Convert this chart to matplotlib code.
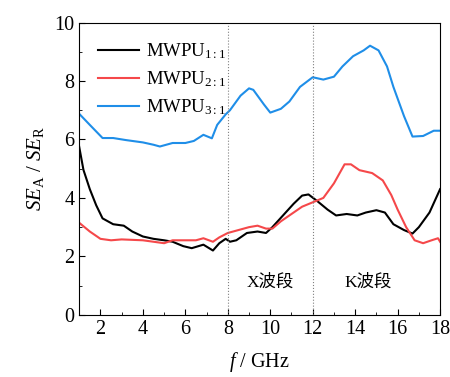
import matplotlib
matplotlib.use("Agg")
import matplotlib.pyplot as plt
from matplotlib.ticker import MultipleLocator

plt.rcParams['font.family'] = ['Liberation Serif', 'Noto Sans CJK SC']
plt.rcParams['mathtext.fontset'] = 'custom'
plt.rcParams['mathtext.rm'] = 'Liberation Serif'
plt.rcParams['mathtext.it'] = 'Liberation Serif:italic'

# frequency (GHz) and SE_A/SE_R
f_blue = [1.0, 1.5, 2.1, 2.6, 3.2, 4.0, 4.5, 4.8, 5.1, 5.4, 6.0, 6.4, 6.85, 7.25, 7.5,
          7.9, 8.1, 8.6, 9.0, 9.2, 9.7, 10.0, 10.5, 10.9, 11.4, 12.0, 12.5, 13.0,
          13.4, 13.9, 14.4, 14.7, 15.1, 15.5, 15.8, 16.3, 16.7, 17.2, 17.7, 18.0]
se_blue = [6.88, 6.5, 6.05, 6.05, 5.98, 5.9, 5.82, 5.76, 5.82, 5.88, 5.88, 5.95, 6.16, 6.04, 6.5,
           6.86, 7.0, 7.5, 7.75, 7.7, 7.2, 6.92, 7.05, 7.3, 7.8, 8.13, 8.05, 8.15,
           8.5, 8.85, 9.05, 9.21, 9.05, 8.5, 7.8, 6.8, 6.1, 6.12, 6.3, 6.3]

f_black = [1.0, 1.2, 1.5, 1.8, 2.1, 2.6, 3.1, 3.5, 4.0, 4.5, 5.0, 5.4, 5.9, 6.3, 6.85,
           7.3, 7.6, 7.9, 8.1, 8.4, 8.9, 9.4, 9.8, 10.1, 10.6, 11.1, 11.5, 11.8,
           12.2, 12.7, 13.1, 13.6, 14.1, 14.5, 15.0, 15.4, 15.8, 16.3, 16.7, 17.0,
           17.5, 18.0]
se_black = [5.75, 4.96, 4.3, 3.75, 3.3, 3.1, 3.05, 2.85, 2.68, 2.6, 2.55, 2.5, 2.35, 2.28, 2.4,
            2.2, 2.45, 2.6, 2.5, 2.55, 2.8, 2.85, 2.8, 3.0, 3.4, 3.8, 4.08, 4.12,
            3.9, 3.6, 3.4, 3.45, 3.4, 3.5, 3.58, 3.5, 3.1, 2.9, 2.78, 3.0,
            3.5, 4.3]

f_red = [1.0, 1.5, 2.0, 2.5, 3.0, 4.0, 4.5, 5.0, 5.4, 6.0, 6.5, 6.85, 7.3, 7.6, 8.0,
         8.5, 9.0, 9.4, 9.8, 10.1, 10.5, 11.0, 11.5, 12.0, 12.5, 13.0, 13.5, 13.8,
         14.2, 14.8, 15.3, 15.7, 16.0, 16.4, 16.8, 17.2, 17.6, 17.9, 18.0]
se_red = [3.15, 2.85, 2.6, 2.55, 2.58, 2.55, 2.5, 2.45, 2.55, 2.55, 2.55, 2.62, 2.5, 2.65, 2.8,
          2.9, 3.0, 3.05, 2.95, 2.95, 3.2, 3.45, 3.7, 3.85, 4.0, 4.5, 5.15, 5.15,
          4.95, 4.85, 4.6, 4.1, 3.6, 3.0, 2.55, 2.45, 2.55, 2.62, 2.5]

labels = [r'MWPU$_{1:1}$', r'MWPU$_{2:1}$', r'MWPU$_{3:1}$']
band_names = ['X波段', 'K波段']
band_pos = [10.0, 14.6]
band_edges = [8, 12]

fig = plt.figure(figsize=(4.5, 3.77), dpi=100)
ax = fig.add_axes([0.176, 0.165, 0.802, 0.775])

ax.plot(f_black, se_black, color='black', lw=1.5, label=labels[0])
ax.plot(f_red, se_red, color='#f5484a', lw=1.5, label=labels[1])
ax.plot(f_blue, se_blue, color='#1f8ee8', lw=1.5, label=labels[2])

for e in band_edges:
    ax.axvline(e, color='gray', ls=':', lw=0.8)
for name, xp in zip(band_names, band_pos):
    ax.text(xp, 1.1, name, ha='center', va='center', fontsize=12.5)

ax.set_xlim(1, 18)
ax.set_ylim(0, 10)
ax.xaxis.set_major_locator(MultipleLocator(2))
ax.xaxis.set_minor_locator(MultipleLocator(1))
ax.yaxis.set_major_locator(MultipleLocator(2))
ax.yaxis.set_minor_locator(MultipleLocator(1))
ax.tick_params(which='both', direction='in', labelsize=14.5, top=False, right=False)
ax.tick_params(which='major', length=4)
ax.tick_params(which='minor', length=2.5)

ax.set_xlabel(r'$f$ / GHz', fontsize=14.5, labelpad=8)
ax.set_ylabel(r'$SE_{\mathrm{A}}$ / $SE_{\mathrm{R}}$', fontsize=15, labelpad=6)

ax.legend(loc='upper left', frameon=False, fontsize=13.5, handlelength=2.2,
          borderaxespad=0.6, labelspacing=0.45, handletextpad=0.35)

plt.savefig('out.png', dpi=100)
